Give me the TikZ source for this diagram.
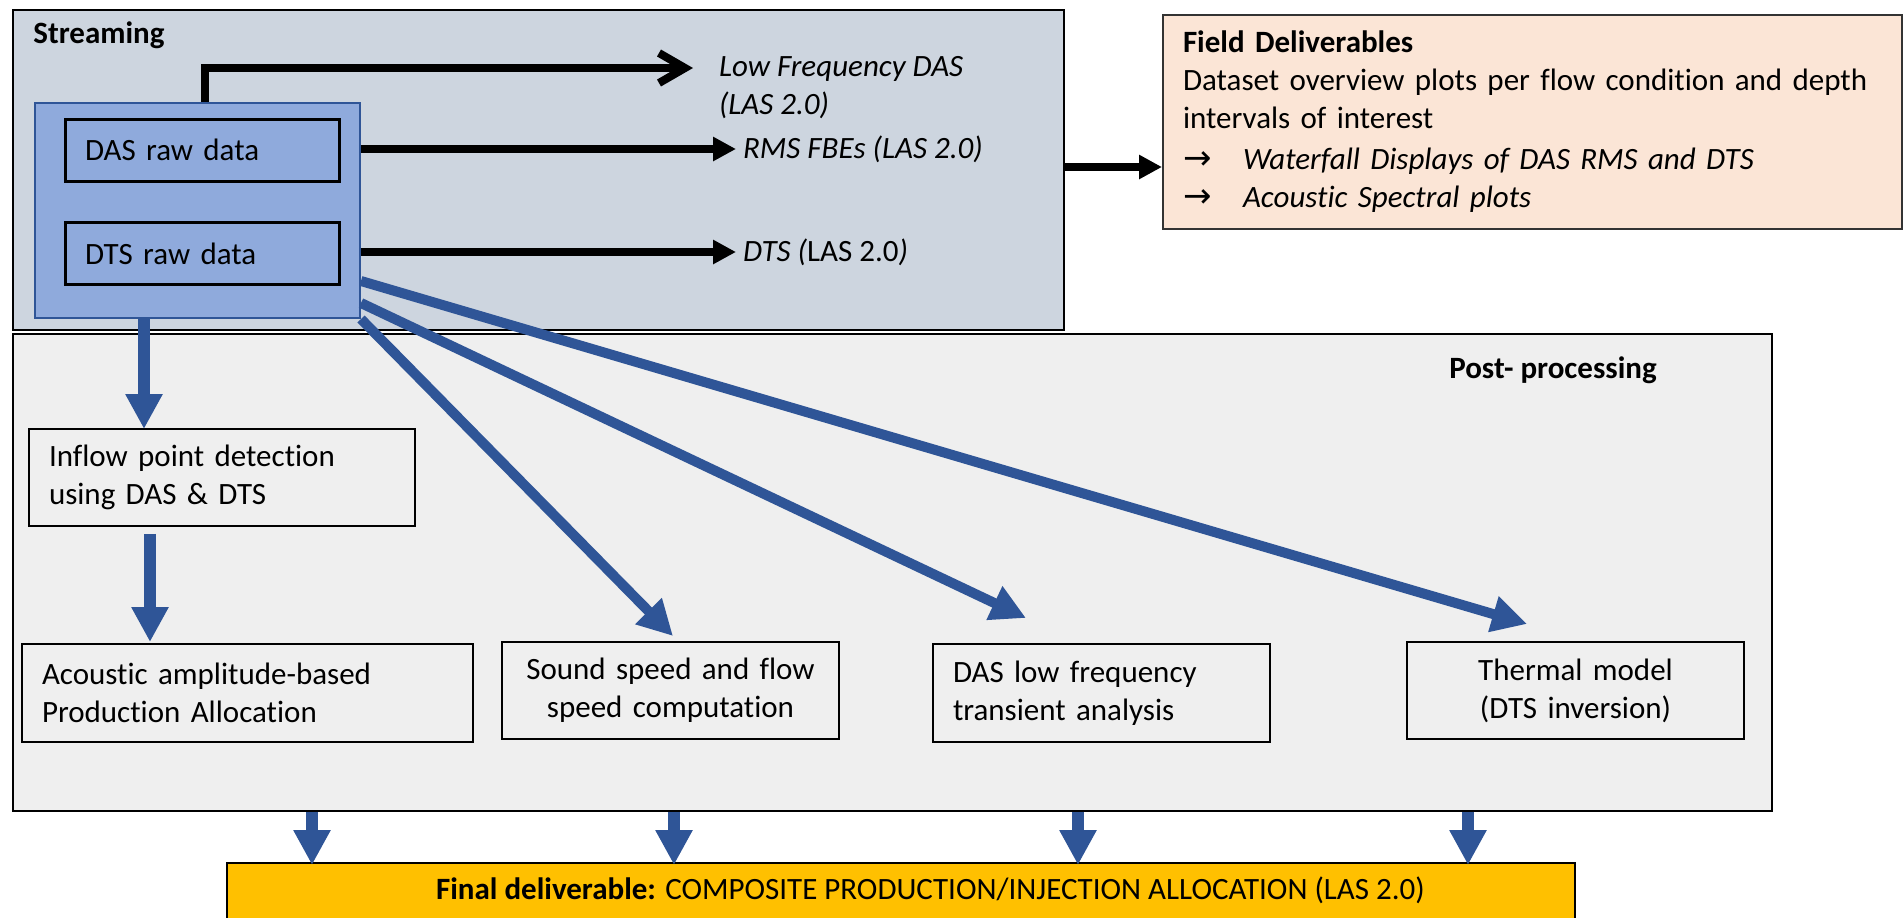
\documentclass[tikz,border=0pt]{standalone}
\usepackage{fontspec}
\setmainfont[Ligatures=NoCommon]{Carlito}
\newfontfamily\arrowfont{DejaVu Sans}
\usepackage{tikz}
\usetikzlibrary{arrows.meta,positioning}

\definecolor{streamgray}{HTML}{CDD5DF}
\definecolor{rawblue}{HTML}{8FAADC}
\definecolor{darkblue}{HTML}{2F5597}
\definecolor{postgray}{HTML}{EFEFEF}
\definecolor{fieldpink}{HTML}{FBE5D6}
\definecolor{finalgold}{HTML}{FFC000}

\newcommand{\basefont}{\fontsize{15.5}{19}\selectfont}
\newcommand{\bul}{\makebox[30pt][l]{\arrowfont\fontsize{17}{19}\selectfont →}}

\begin{document}
\begin{tikzpicture}[x=0.5pt,y=-0.5pt,font=\basefont,
	panel/.style={draw=black,line width=1.3pt,inner sep=0pt},
	rawbox/.style={draw=black,line width=1.5pt,fill=rawblue,minimum width=137pt,minimum height=31pt,text width=117pt,inner xsep=10pt,align=left},
	task/.style={draw=black,line width=0.9pt,fill=postgray,minimum height=48.5pt,inner xsep=10pt},
	feed/.style={line width=4pt,-{Triangle[length=11.5pt,width=11.5pt]}},
	flow/.style={draw=darkblue,line width=5pt,-{Triangle[length=17.5pt,width=17.5pt]}},
	drop/.style={flow,line width=6pt}]

		\useasboundingbox (0,0) rectangle (1903,917);

		% streaming
		\node[panel,fill=streamgray,minimum width=525.5pt,minimum height=160pt] (stream) at (538.5,170) {};
		\node[anchor=base west,font=\basefont\bfseries,inner sep=0pt] (streamlbl) at (33,43) {Streaming};

		% post-processing
		\node[panel,fill=postgray,minimum width=879.5pt,minimum height=238.5pt] (post) at (892.5,572.5) {};
		\node[anchor=base,font=\basefont\bfseries,inner sep=0pt] (postlbl) at (1553,378) {Post- processing};

		\node[draw=darkblue,line width=1pt,fill=rawblue,minimum width=162.5pt,minimum height=107.5pt] (raw) at (197.5,210.5) {};
		\node[rawbox] (dasraw) at (202,150) {DAS raw data};
		\node[rawbox] (dtsraw) at (202,253.5) {DTS raw data};

		\node[anchor=west,align=left,font=\basefont\itshape] (lowtxt) at (712,87.5) {Low Frequency DAS\\(LAS 2.0)};
		\node[anchor=west,font=\basefont\itshape] (rmstxt) at (736,149) {RMS FBEs (LAS 2.0)};
		\node[anchor=west] (dtstxt) at (736,252) {\textit{DTS (}LAS 2.0\textit{)}};

		\coordinate (lowbend) at (205,68);
		\coordinate (lowtip) at (693,68);
		\draw[line width=4pt,-{Straight Barb[length=13pt,width=15pt]}] (raw.north -| lowbend) -- (lowbend) -- (lowtip);
		\draw[feed] (raw.east |- rmstxt) -- (rmstxt.west);
		\draw[feed] (raw.east |- dtstxt) -- (dtstxt.west);

		% field deliverables
		\node[draw=black!80,line width=1pt,fill=fieldpink,minimum width=369.5pt,minimum height=107pt,text width=349.5pt,inner xsep=10pt,align=left,anchor=north west] (field) at (1162,14)
			{\textbf{Field Deliverables}\\
			Dataset overview plots per flow condition and depth\\
			intervals of interest\\[1.5pt]
			\bul\textit{Waterfall Displays of DAS RMS and DTS}\\
			\bul\textit{Acoustic Spectral plots}};
		\coordinate (fieldin) at (1162,167);
		\draw[feed] (stream.east |- fieldin) -- (fieldin);

		% tasks
		\node[task,minimum width=193pt,text width=173pt,align=left] (inflow) at (222,477.5) {Inflow point detection\\using DAS \& DTS};
		\node[task,minimum width=225.5pt,text width=205.5pt,align=left,minimum height=49pt] (acoustic) at (247.5,693) {Acoustic amplitude-based\\Production Allocation};
		\node[task,minimum width=168.5pt,text width=148.5pt,align=center] (sound) at (670.5,690.5) {Sound speed and flow\\speed computation};
		\node[task,minimum width=168.5pt,text width=148.5pt,align=left,minimum height=49pt] (daslow) at (1101.5,693) {DAS low frequency\\transient analysis};
		\node[task,minimum width=168.5pt,text width=148.5pt,align=center] (thermal) at (1575.5,690.5) {Thermal model\\(DTS inversion)};

		\coordinate (inflowin) at (144,429);
		\coordinate (acousin) at (150,642);
		\coordinate (soundin) at (673,636);
		\coordinate (dasin) at (1026,618);
		\coordinate (thermin) at (1527,624);

		\draw[drop] (raw.south -| inflowin) -- (inflowin);
		\draw[drop,shorten <=3.5pt] (inflow.south -| acousin) -- (acousin);
		\draw[flow] (raw.south east) -- (soundin);
		\draw[flow] ([yshift=8pt]raw.south east) -- (dasin);
		\draw[flow] ([yshift=19pt]raw.south east) -- (thermin);

		% final deliverable
		\node[draw=black,line width=1pt,fill=finalgold,minimum width=674pt,minimum height=31pt] (final) at (901,894) {};
		\node[anchor=base west] (finaltxt) at (429,899) {\textbf{Final deliverable:} COMPOSITE PRODUCTION/INJECTION ALLOCATION (LAS 2.0)};

		\foreach \x in {312,674,1078,1468} {
			\coordinate (drop\x) at (\x,840);
			\draw[drop,shorten >=-1.5pt] (post.south -| drop\x) -- (final.north -| drop\x);
		}
	\end{tikzpicture}
\end{document}
